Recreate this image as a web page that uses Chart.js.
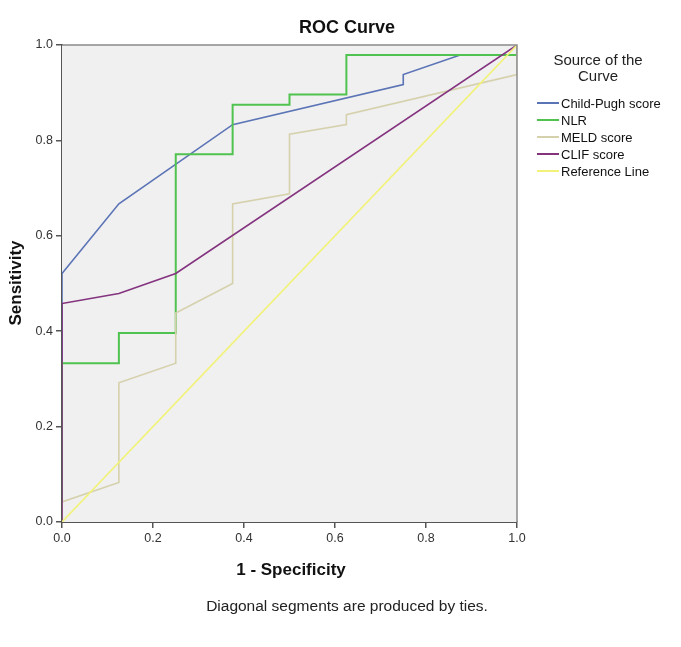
<!DOCTYPE html>
<html>
<head>
<meta charset="utf-8">
<title>ROC Curve</title>
<script src="https://cdn.jsdelivr.net/npm/chart.js@4/dist/chart.umd.min.js"></script>
<style>
    html, body { margin: 0; padding: 0; background: #fff; }
    #wrap { width: 681px; height: 647px; position: relative; }
</style>
</head>
<body>
<div id="wrap"><canvas id="rocChart" width="681" height="647"></canvas></div>
<script>
// 1 - specificity / sensitivity pairs
const childPughX = [0, 0, 0.125, 0.375, 0.75, 0.75, 0.875, 1, 1];
const childPughY = [0, 0.521, 0.667, 0.833, 0.917, 0.938, 0.979, 0.979, 1];

const nlrX = [0, 0, 0.125, 0.125, 0.25, 0.25, 0.375, 0.375, 0.5, 0.5, 0.625, 0.625, 1, 1];
const nlrY = [0, 0.333, 0.333, 0.396, 0.396, 0.771, 0.771, 0.875, 0.875, 0.896, 0.896, 0.979, 0.979, 1];

const meldX = [0, 0, 0.125, 0.125, 0.25, 0.25, 0.375, 0.375, 0.5, 0.5, 0.625, 0.625, 1, 1];
const meldY = [0, 0.042, 0.083, 0.292, 0.333, 0.438, 0.5, 0.667, 0.688, 0.813, 0.833, 0.854, 0.938, 1];

const clifX = [0, 0, 0.125, 0.25, 1];
const clifY = [0, 0.458, 0.479, 0.521, 1];

const refX = [0, 1];
const refY = [0, 1];

const seriesNames = ['Child-Pugh score', 'NLR', 'MELD score', 'CLIF score', 'Reference Line'];
const seriesColors = ['#5b74b6', '#4fc24f', '#d6d1ad', '#84337f', '#f2f27a'];
const tickValues = [0, 0.2, 0.4, 0.6, 0.8, 1.0];

function toPoints(xs, ys) {
    return xs.map((x, i) => ({ x: x, y: ys[i] }));
}

const FONT = '"Liberation Sans", Arial, sans-serif';

// background, frame and all the free text around the plot
const decorPlugin = {
    id: 'decor',
    beforeDatasetsDraw(chart) {
        const { ctx, chartArea: a } = chart;
        ctx.save();
        ctx.fillStyle = '#f0f0f0';
        ctx.fillRect(a.left, a.top, a.right - a.left, a.bottom - a.top);
        ctx.restore();
    },
    afterDatasetsDraw(chart) {
        const { ctx, chartArea: a } = chart;
        ctx.save();
        // top and right frame
        ctx.strokeStyle = '#8a8a8a';
        ctx.lineWidth = 1.5;
        ctx.beginPath();
        ctx.moveTo(a.left, a.top);
        ctx.lineTo(a.right, a.top);
        ctx.lineTo(a.right, a.bottom);
        ctx.stroke();
        ctx.restore();
    },
    afterDraw(chart) {
        const { ctx } = chart;
        ctx.save();
        ctx.fillStyle = '#111';
        ctx.textAlign = 'center';
        ctx.textBaseline = 'middle';

        ctx.font = 'bold 18px ' + FONT;
        ctx.fillText('ROC Curve', 347, 28);

        ctx.font = 'bold 17px ' + FONT;
        ctx.fillText('1 - Specificity', 291, 570);

        ctx.save();
        ctx.translate(16, 283);
        ctx.rotate(-Math.PI / 2);
        ctx.fillText('Sensitivity', 0, 0);
        ctx.restore();

        ctx.fillStyle = '#222';
        ctx.font = '15.5px ' + FONT;
        ctx.fillText('Diagonal segments are produced by ties.', 347, 607);

        // legend
        ctx.font = '15px ' + FONT;
        ctx.fillText('Source of the', 598, 61);
        ctx.fillText('Curve', 598, 77);
        ctx.font = '13px ' + FONT;
        ctx.textAlign = 'left';
        chart.data.datasets.forEach((ds, i) => {
            const y = 103 + i * 17;
            ctx.strokeStyle = ds.borderColor;
            ctx.lineWidth = 2;
            ctx.beginPath();
            ctx.moveTo(537, y);
            ctx.lineTo(559, y);
            ctx.stroke();
            ctx.fillStyle = '#111';
            ctx.fillText(ds.label, 561, y + 1);
        });
        ctx.restore();
    }
};

document.addEventListener('DOMContentLoaded', function() {
    const ctx = document.getElementById('rocChart').getContext('2d');
    const xsList = [childPughX, nlrX, meldX, clifX, refX];
    const ysList = [childPughY, nlrY, meldY, clifY, refY];

    const datasets = seriesNames.map((name, i) => ({
        label: name,
        data: toPoints(xsList[i], ysList[i]),
        showLine: true,
        borderColor: seriesColors[i],
        backgroundColor: seriesColors[i],
        borderWidth: i === 1 ? 2 : 1.6,
        pointRadius: 0,
        tension: 0,
        order: 5 - i
    }));

    new Chart(ctx, {
        type: 'scatter',
        data: { datasets: datasets },
        plugins: [decorPlugin],
        options: {
            responsive: false,
            animation: false,
            layout: { padding: { left: 0, right: 164, top: 45, bottom: 0 } },
            plugins: {
                legend: { display: false },
                title: { display: false },
                tooltip: { enabled: false }
            },
            scales: {
                x: {
                    type: 'linear',
                    min: 0,
                    max: 1,
                    afterBuildTicks: scale => { scale.ticks = tickValues.map(v => ({ value: v })); },
                    afterFit: scale => { scale.height = 125; },
                    ticks: {
                        callback: v => v.toFixed(1),
                        color: '#333',
                        font: { family: FONT, size: 12.5 },
                        padding: 3,
                        maxRotation: 0
                    },
                    grid: { drawOnChartArea: false, drawTicks: true, tickLength: 6, color: '#555', lineWidth: 1.5 },
                    border: { color: '#555', width: 2 }
                },
                y: {
                    type: 'linear',
                    min: 0,
                    max: 1,
                    afterBuildTicks: scale => { scale.ticks = tickValues.map(v => ({ value: v })); },
                    afterFit: scale => { scale.width = 62; },
                    ticks: {
                        callback: v => v.toFixed(1),
                        color: '#333',
                        font: { family: FONT, size: 12.5 },
                        padding: 3
                    },
                    grid: { drawOnChartArea: false, drawTicks: true, tickLength: 6, color: '#555', lineWidth: 1.5 },
                    border: { color: '#555', width: 2 }
                }
            }
        }
    });
});
</script>
</body>
</html>
